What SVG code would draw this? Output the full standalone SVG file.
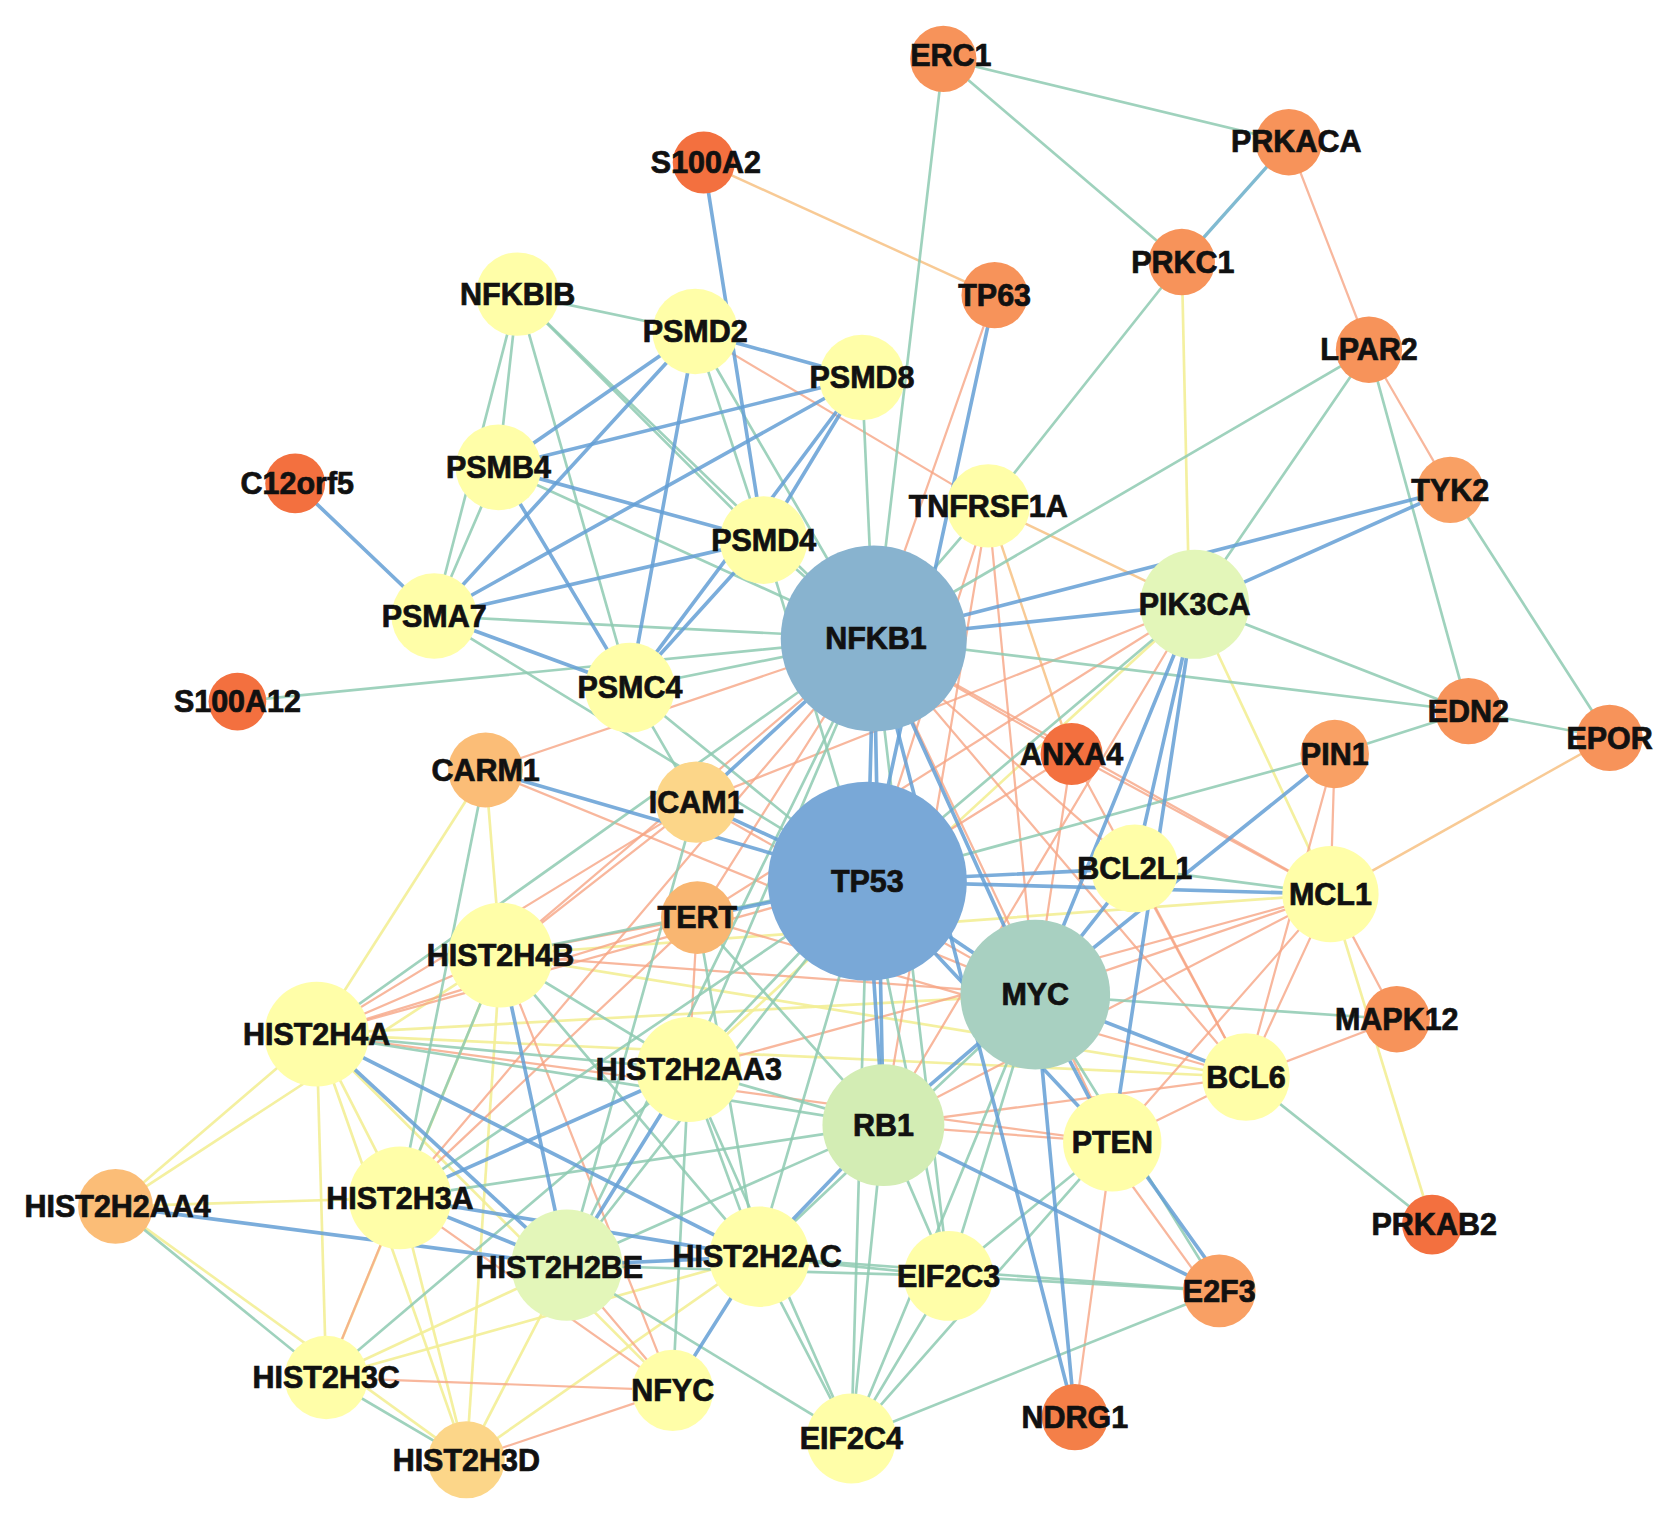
<svg xmlns="http://www.w3.org/2000/svg" width="1677" height="1525" viewBox="0 0 1677 1525">
<style>
.e line{stroke-linecap:round;fill:none}
.b{stroke:#649fd5;stroke-width:3.4;opacity:.85}
.bt{stroke:#6aaec9;stroke-width:3.2;opacity:.85}
.g{stroke:#8ecab2;stroke-width:2.5;opacity:.85}
.o{stroke:#f6a585;stroke-width:2.1;opacity:.8}
.oy{stroke:#f7c48a;stroke-width:2.3;opacity:.9}
.y{stroke:#f3ee96;stroke-width:2.5;opacity:.9}
.nd text{font-family:"Liberation Sans",Arial,Helvetica,sans-serif;font-weight:bold;font-size:28.5px;text-anchor:middle;fill:#111;stroke:#111;stroke-width:0.7px}
.red{fill:#f3703f}.org{fill:#f7935a}.lorg{fill:#f9a064}.peach{fill:#fbbd77}.sand{fill:#fcd689}
.yel{fill:#fffea8}.lg{fill:#e3f6b9}.rb{fill:#d3edb4}
</style>
<rect width="1677" height="1525" fill="#ffffff"/>
<g transform="scale(1.0695)">
<g id="connectors" class="e">
<line class="y" x1="1105" y1="245" x2="1112" y2="565"/>
<line class="y" x1="1117" y1="565" x2="1244" y2="836"/>
<line class="y" x1="1244" y1="836" x2="1339" y2="1145"/>
<line class="y" x1="468" y1="893" x2="1244" y2="836"/>
<line class="y" x1="296" y1="967" x2="1165" y2="1007"/>
<line class="y" x1="296" y1="967" x2="968" y2="930"/>
<line class="y" x1="468" y1="893" x2="1165" y2="1007"/>
<line class="y" x1="454" y1="720" x2="468" y2="893"/>
<line class="y" x1="454" y1="720" x2="296" y2="967"/>
<line class="y" x1="108" y1="1128" x2="296" y2="967"/>
<line class="y" x1="108" y1="1128" x2="468" y2="893"/>
<line class="y" x1="108" y1="1128" x2="374" y2="1120"/>
<line class="y" x1="108" y1="1128" x2="436" y2="1365"/>
<line class="y" x1="296" y1="967" x2="374" y2="1120"/>
<line class="y" x1="296" y1="967" x2="305" y2="1288"/>
<line class="y" x1="296" y1="967" x2="436" y2="1365"/>
<line class="y" x1="296" y1="967" x2="629" y2="1300"/>
<line class="y" x1="468" y1="893" x2="305" y2="1288"/>
<line class="y" x1="468" y1="893" x2="436" y2="1365"/>
<line class="y" x1="374" y1="1120" x2="436" y2="1365"/>
<line class="y" x1="530" y1="1183" x2="305" y2="1288"/>
<line class="y" x1="530" y1="1183" x2="436" y2="1365"/>
<line class="y" x1="708" y1="1175" x2="305" y2="1288"/>
<line class="y" x1="708" y1="1175" x2="436" y2="1365"/>
<line class="y" x1="1117" y1="565" x2="644" y2="1000"/>
<line class="oy" x1="658" y1="152" x2="930" y2="276"/>
<line class="oy" x1="924" y1="473" x2="1117" y2="565"/>
<line class="oy" x1="924" y1="473" x2="1002" y2="705"/>
<line class="oy" x1="1505" y1="690" x2="1244" y2="836"/>
<line class="o" x1="1205" y1="133" x2="1280" y2="327"/>
<line class="o" x1="1280" y1="327" x2="1356" y2="458"/>
<line class="o" x1="930" y1="276" x2="817" y2="597"/>
<line class="o" x1="650" y1="310" x2="924" y2="473"/>
<line class="o" x1="924" y1="473" x2="811" y2="824"/>
<line class="o" x1="924" y1="473" x2="968" y2="930"/>
<line class="o" x1="924" y1="473" x2="826" y2="1052"/>
<line class="o" x1="817" y1="597" x2="1002" y2="705"/>
<line class="o" x1="817" y1="597" x2="1061" y2="812"/>
<line class="o" x1="817" y1="597" x2="1244" y2="836"/>
<line class="o" x1="817" y1="597" x2="1040" y2="1068"/>
<line class="o" x1="817" y1="597" x2="1165" y2="1007"/>
<line class="o" x1="817" y1="597" x2="468" y2="893"/>
<line class="o" x1="817" y1="597" x2="652" y2="858"/>
<line class="o" x1="817" y1="597" x2="374" y2="1120"/>
<line class="o" x1="1002" y1="705" x2="811" y2="824"/>
<line class="o" x1="1002" y1="705" x2="968" y2="930"/>
<line class="o" x1="1002" y1="705" x2="1244" y2="836"/>
<line class="o" x1="1002" y1="705" x2="1165" y2="1007"/>
<line class="o" x1="1117" y1="565" x2="651" y2="750"/>
<line class="o" x1="1117" y1="565" x2="826" y2="1052"/>
<line class="o" x1="1117" y1="565" x2="652" y2="858"/>
<line class="o" x1="1248" y1="705" x2="1244" y2="836"/>
<line class="o" x1="1248" y1="705" x2="1165" y2="1007"/>
<line class="o" x1="1244" y1="836" x2="1306" y2="953"/>
<line class="o" x1="1244" y1="836" x2="1165" y2="1007"/>
<line class="o" x1="1244" y1="836" x2="826" y2="1052"/>
<line class="o" x1="1244" y1="836" x2="1040" y2="1068"/>
<line class="o" x1="1244" y1="836" x2="968" y2="930"/>
<line class="o" x1="1165" y1="1007" x2="1306" y2="953"/>
<line class="o" x1="1165" y1="1007" x2="1061" y2="812"/>
<line class="o" x1="1165" y1="1007" x2="1040" y2="1068"/>
<line class="o" x1="1165" y1="1007" x2="826" y2="1052"/>
<line class="o" x1="1032" y1="1072" x2="1132" y2="1210"/>
<line class="o" x1="1040" y1="1068" x2="1005" y2="1325"/>
<line class="o" x1="1040" y1="1068" x2="826" y2="1052"/>
<line class="o" x1="454" y1="720" x2="817" y2="597"/>
<line class="o" x1="454" y1="720" x2="968" y2="930"/>
<line class="o" x1="651" y1="750" x2="468" y2="893"/>
<line class="o" x1="651" y1="750" x2="296" y2="967"/>
<line class="o" x1="651" y1="750" x2="968" y2="930"/>
<line class="o" x1="652" y1="858" x2="468" y2="893"/>
<line class="o" x1="652" y1="858" x2="296" y2="967"/>
<line class="o" x1="652" y1="858" x2="644" y2="1000"/>
<line class="o" x1="652" y1="858" x2="374" y2="1120"/>
<line class="o" x1="652" y1="858" x2="1165" y2="1007"/>
<line class="o" x1="296" y1="967" x2="468" y2="893"/>
<line class="o" x1="296" y1="967" x2="811" y2="824"/>
<line class="o" x1="296" y1="967" x2="1040" y2="1068"/>
<line class="o" x1="468" y1="893" x2="968" y2="930"/>
<line class="o" x1="644" y1="1000" x2="1244" y2="836"/>
<line class="o" x1="374" y1="1120" x2="305" y2="1288"/>
<line class="o" x1="374" y1="1120" x2="629" y2="1300"/>
<line class="o" x1="530" y1="1183" x2="629" y2="1300"/>
<line class="o" x1="305" y1="1288" x2="629" y2="1300"/>
<line class="o" x1="436" y1="1365" x2="629" y2="1300"/>
<line class="o" x1="468" y1="893" x2="629" y2="1300"/>
<line class="g" x1="882" y1="55" x2="1205" y2="133"/>
<line class="g" x1="882" y1="55" x2="1105" y2="245"/>
<line class="g" x1="882" y1="55" x2="818" y2="597"/>
<line class="g" x1="1105" y1="245" x2="924" y2="473"/>
<line class="g" x1="1280" y1="327" x2="817" y2="597"/>
<line class="g" x1="1280" y1="327" x2="1117" y2="565"/>
<line class="g" x1="1280" y1="327" x2="1373" y2="665"/>
<line class="g" x1="1356" y1="458" x2="1505" y2="690"/>
<line class="g" x1="1117" y1="565" x2="1373" y2="665"/>
<line class="g" x1="817" y1="597" x2="1373" y2="665"/>
<line class="g" x1="1373" y1="665" x2="1505" y2="690"/>
<line class="g" x1="1373" y1="665" x2="1248" y2="705"/>
<line class="g" x1="1248" y1="705" x2="811" y2="824"/>
<line class="g" x1="484" y1="275" x2="650" y2="310"/>
<line class="g" x1="484" y1="275" x2="466" y2="437"/>
<line class="g" x1="484" y1="275" x2="406" y2="576"/>
<line class="g" x1="484" y1="275" x2="589" y2="643"/>
<line class="g" x1="484" y1="275" x2="714" y2="505"/>
<line class="g" x1="484" y1="275" x2="817" y2="597"/>
<line class="g" x1="650" y1="310" x2="714" y2="505"/>
<line class="g" x1="650" y1="310" x2="817" y2="597"/>
<line class="g" x1="806" y1="353" x2="817" y2="597"/>
<line class="g" x1="466" y1="437" x2="406" y2="576"/>
<line class="g" x1="466" y1="437" x2="817" y2="597"/>
<line class="g" x1="406" y1="576" x2="817" y2="597"/>
<line class="g" x1="406" y1="576" x2="811" y2="824"/>
<line class="g" x1="714" y1="505" x2="817" y2="597"/>
<line class="g" x1="714" y1="505" x2="811" y2="824"/>
<line class="g" x1="589" y1="643" x2="817" y2="597"/>
<line class="g" x1="589" y1="643" x2="811" y2="824"/>
<line class="g" x1="222" y1="656" x2="817" y2="597"/>
<line class="g" x1="924" y1="473" x2="817" y2="597"/>
<line class="g" x1="1117" y1="565" x2="811" y2="824"/>
<line class="g" x1="454" y1="720" x2="374" y2="1120"/>
<line class="g" x1="1061" y1="812" x2="1244" y2="836"/>
<line class="g" x1="968" y1="930" x2="1306" y2="953"/>
<line class="g" x1="968" y1="930" x2="1140" y2="1207"/>
<line class="g" x1="968" y1="930" x2="887" y2="1193"/>
<line class="g" x1="968" y1="930" x2="796" y2="1345"/>
<line class="g" x1="968" y1="930" x2="708" y2="1175"/>
<line class="g" x1="1165" y1="1007" x2="1339" y2="1145"/>
<line class="g" x1="826" y1="1052" x2="887" y2="1193"/>
<line class="g" x1="826" y1="1052" x2="796" y2="1345"/>
<line class="g" x1="826" y1="1052" x2="644" y2="1000"/>
<line class="g" x1="826" y1="1052" x2="530" y2="1183"/>
<line class="g" x1="826" y1="1052" x2="296" y2="967"/>
<line class="g" x1="826" y1="1052" x2="374" y2="1120"/>
<line class="g" x1="1040" y1="1068" x2="887" y2="1193"/>
<line class="g" x1="1040" y1="1068" x2="796" y2="1345"/>
<line class="g" x1="1140" y1="1207" x2="887" y2="1193"/>
<line class="g" x1="1140" y1="1207" x2="796" y2="1345"/>
<line class="g" x1="1140" y1="1207" x2="708" y2="1175"/>
<line class="g" x1="887" y1="1193" x2="796" y2="1345"/>
<line class="g" x1="887" y1="1193" x2="530" y2="1183"/>
<line class="g" x1="887" y1="1193" x2="708" y2="1175"/>
<line class="g" x1="796" y1="1345" x2="708" y2="1175"/>
<line class="g" x1="796" y1="1345" x2="530" y2="1183"/>
<line class="g" x1="796" y1="1345" x2="644" y2="1000"/>
<line class="g" x1="811" y1="824" x2="644" y2="1000"/>
<line class="g" x1="811" y1="824" x2="530" y2="1183"/>
<line class="g" x1="811" y1="824" x2="708" y2="1175"/>
<line class="g" x1="811" y1="824" x2="468" y2="893"/>
<line class="g" x1="811" y1="824" x2="374" y2="1120"/>
<line class="g" x1="811" y1="824" x2="887" y2="1193"/>
<line class="g" x1="811" y1="824" x2="796" y2="1345"/>
<line class="g" x1="817" y1="597" x2="644" y2="1000"/>
<line class="g" x1="817" y1="597" x2="530" y2="1183"/>
<line class="g" x1="817" y1="597" x2="887" y2="1193"/>
<line class="g" x1="817" y1="597" x2="296" y2="967"/>
<line class="g" x1="108" y1="1128" x2="305" y2="1288"/>
<line class="g" x1="296" y1="967" x2="644" y2="1000"/>
<line class="g" x1="468" y1="893" x2="644" y2="1000"/>
<line class="g" x1="468" y1="893" x2="708" y2="1175"/>
<line class="g" x1="468" y1="893" x2="374" y2="1120"/>
<line class="g" x1="644" y1="1000" x2="708" y2="1175"/>
<line class="g" x1="644" y1="1000" x2="305" y2="1288"/>
<line class="g" x1="644" y1="1000" x2="629" y2="1300"/>
<line class="g" x1="305" y1="1288" x2="436" y2="1365"/>
<line class="g" x1="652" y1="858" x2="826" y2="1052"/>
<line class="g" x1="651" y1="750" x2="530" y2="1183"/>
<line class="g" x1="589" y1="643" x2="651" y2="750"/>
<line class="g" x1="652" y1="858" x2="708" y2="1175"/>
<line class="bt" x1="1205" y1="133" x2="1105" y2="245"/>
<line class="b" x1="658" y1="152" x2="714" y2="505"/>
<line class="b" x1="276" y1="452" x2="406" y2="576"/>
<line class="b" x1="650" y1="310" x2="806" y2="353"/>
<line class="b" x1="650" y1="310" x2="466" y2="437"/>
<line class="b" x1="650" y1="310" x2="406" y2="576"/>
<line class="b" x1="650" y1="310" x2="589" y2="643"/>
<line class="b" x1="806" y1="353" x2="466" y2="437"/>
<line class="b" x1="806" y1="353" x2="406" y2="576"/>
<line class="b" x1="806" y1="353" x2="714" y2="505"/>
<line class="b" x1="806" y1="353" x2="589" y2="643"/>
<line class="b" x1="466" y1="437" x2="714" y2="505"/>
<line class="b" x1="466" y1="437" x2="589" y2="643"/>
<line class="b" x1="406" y1="576" x2="714" y2="505"/>
<line class="b" x1="406" y1="576" x2="589" y2="643"/>
<line class="b" x1="714" y1="505" x2="589" y2="643"/>
<line class="b" x1="930" y1="276" x2="811" y2="824"/>
<line class="b" x1="817" y1="597" x2="1117" y2="565"/>
<line class="b" x1="817" y1="597" x2="1356" y2="458"/>
<line class="b" x1="1117" y1="565" x2="1356" y2="458"/>
<line class="b" x1="817" y1="597" x2="811" y2="824"/>
<line class="b" x1="817" y1="597" x2="968" y2="930"/>
<line class="b" x1="817" y1="597" x2="826" y2="1052"/>
<line class="b" x1="817" y1="597" x2="1005" y2="1325"/>
<line class="b" x1="811" y1="824" x2="968" y2="930"/>
<line class="b" x1="811" y1="824" x2="826" y2="1052"/>
<line class="b" x1="968" y1="930" x2="826" y2="1052"/>
<line class="b" x1="811" y1="824" x2="1061" y2="812"/>
<line class="b" x1="811" y1="824" x2="1244" y2="836"/>
<line class="b" x1="1248" y1="705" x2="968" y2="930"/>
<line class="b" x1="1117" y1="565" x2="1061" y2="812"/>
<line class="b" x1="1117" y1="565" x2="968" y2="930"/>
<line class="b" x1="1117" y1="565" x2="1040" y2="1068"/>
<line class="b" x1="454" y1="720" x2="811" y2="824"/>
<line class="b" x1="651" y1="750" x2="811" y2="824"/>
<line class="b" x1="651" y1="750" x2="817" y2="597"/>
<line class="b" x1="652" y1="858" x2="811" y2="824"/>
<line class="b" x1="968" y1="930" x2="1040" y2="1068"/>
<line class="b" x1="968" y1="930" x2="1165" y2="1007"/>
<line class="b" x1="968" y1="930" x2="1005" y2="1325"/>
<line class="b" x1="968" y1="930" x2="1061" y2="812"/>
<line class="b" x1="826" y1="1052" x2="1140" y2="1207"/>
<line class="b" x1="826" y1="1052" x2="708" y2="1175"/>
<line class="b" x1="1048" y1="1066" x2="1146" y2="1203"/>
<line class="b" x1="811" y1="824" x2="1040" y2="1068"/>
<line class="b" x1="108" y1="1128" x2="530" y2="1183"/>
<line class="b" x1="296" y1="967" x2="530" y2="1183"/>
<line class="b" x1="296" y1="967" x2="708" y2="1175"/>
<line class="b" x1="468" y1="893" x2="530" y2="1183"/>
<line class="b" x1="644" y1="1000" x2="374" y2="1120"/>
<line class="b" x1="644" y1="1000" x2="530" y2="1183"/>
<line class="b" x1="374" y1="1120" x2="530" y2="1183"/>
<line class="b" x1="374" y1="1120" x2="708" y2="1175"/>
<line class="b" x1="530" y1="1183" x2="708" y2="1175"/>
<line class="b" x1="708" y1="1175" x2="629" y2="1300"/>
</g>
<g id="nodes" class="nd">
<g id="n-ERC1"><circle class="org" cx="882" cy="55" r="31"/><text x="889" y="62">ERC1</text></g>
<g id="n-PRKACA"><circle class="org" cx="1205" cy="133" r="31"/><text x="1212" y="142">PRKACA</text></g>
<g id="n-S100A2"><circle class="red" cx="658" cy="152" r="29"/><text x="660" y="162">S100A2</text></g>
<g id="n-PRKC1"><circle class="org" cx="1105" cy="245" r="31"/><text x="1106" y="255">PRKC1</text></g>
<g id="n-TP63"><circle class="org" cx="930" cy="276" r="31"/><text x="930" y="286">TP63</text></g>
<g id="n-NFKBIB"><circle class="yel" cx="484" cy="275" r="39"/><text x="484" y="285">NFKBIB</text></g>
<g id="n-PSMD2"><circle class="yel" cx="650" cy="310" r="40"/><text x="650" y="320">PSMD2</text></g>
<g id="n-LPAR2"><circle class="org" cx="1280" cy="327" r="31"/><text x="1280" y="337">LPAR2</text></g>
<g id="n-PSMD8"><circle class="yel" cx="806" cy="353" r="40"/><text x="806" y="363">PSMD8</text></g>
<g id="n-PSMB4"><circle class="yel" cx="466" cy="437" r="40"/><text x="466" y="447">PSMB4</text></g>
<g id="n-C12orf5"><circle class="red" cx="276" cy="452" r="28"/><text x="278" y="462">C12orf5</text></g>
<g id="n-TYK2"><circle class="lorg" cx="1356" cy="458" r="31"/><text x="1356" y="468">TYK2</text></g>
<g id="n-TNFRSF1A"><circle class="yel" cx="924" cy="473" r="39"/><text x="924" y="483">TNFRSF1A</text></g>
<g id="n-PSMD4"><circle class="yel" cx="714" cy="505" r="41"/><text x="714" y="515">PSMD4</text></g>
<g id="n-PSMA7"><circle class="yel" cx="406" cy="576" r="40"/><text x="406" y="586">PSMA7</text></g>
<g id="n-PSMC4"><circle class="yel" cx="589" cy="643" r="42"/><text x="589" y="653">PSMC4</text></g>
<g id="n-S100A12"><circle class="red" cx="222" cy="656" r="27"/><text x="222" y="666">S100A12</text></g>
<g id="n-PIK3CA"><circle class="lg" cx="1117" cy="565" r="51"/><text x="1117" y="575">PIK3CA</text></g>
<g id="n-NFKB1"><circle fill="#88b3cf" cx="817" cy="597" r="87"/><text x="819" y="607">NFKB1</text></g>
<g id="n-EDN2"><circle class="org" cx="1373" cy="665" r="31"/><text x="1373" y="675">EDN2</text></g>
<g id="n-EPOR"><circle class="org" cx="1505" cy="690" r="31"/><text x="1505" y="700">EPOR</text></g>
<g id="n-ANXA4"><circle class="red" cx="1002" cy="705" r="29"/><text x="1002" y="715">ANXA4</text></g>
<g id="n-PIN1"><circle class="lorg" cx="1248" cy="705" r="32"/><text x="1248" y="715">PIN1</text></g>
<g id="n-CARM1"><circle class="peach" cx="454" cy="720" r="35"/><text x="454" y="730">CARM1</text></g>
<g id="n-ICAM1"><circle class="sand" cx="651" cy="750" r="38"/><text x="651" y="760">ICAM1</text></g>
<g id="n-TP53"><circle fill="#79a8d7" cx="811" cy="824" r="93"/><text x="811" y="834">TP53</text></g>
<g id="n-BCL2L1"><circle class="yel" cx="1061" cy="812" r="41"/><text x="1061" y="822">BCL2L1</text></g>
<g id="n-MCL1"><circle class="yel" cx="1244" cy="836" r="45"/><text x="1244" y="846">MCL1</text></g>
<g id="n-TERT"><circle fill="#f9b671" cx="652" cy="858" r="34"/><text x="652" y="868">TERT</text></g>
<g id="n-HIST2H4B"><circle class="yel" cx="468" cy="893" r="49"/><text x="468" y="903">HIST2H4B</text></g>
<g id="n-MYC"><circle fill="#a8d0c1" cx="968" cy="930" r="70"/><text x="968" y="940">MYC</text></g>
<g id="n-HIST2H4A"><circle class="yel" cx="296" cy="967" r="49"/><text x="296" y="977">HIST2H4A</text></g>
<g id="n-MAPK12"><circle class="org" cx="1306" cy="953" r="31"/><text x="1306" y="963">MAPK12</text></g>
<g id="n-HIST2H2AA3"><circle class="yel" cx="644" cy="1000" r="49"/><text x="644" y="1010">HIST2H2AA3</text></g>
<g id="n-BCL6"><circle class="yel" cx="1165" cy="1007" r="41"/><text x="1165" y="1017">BCL6</text></g>
<g id="n-RB1"><circle class="rb" cx="826" cy="1052" r="57"/><text x="826" y="1062">RB1</text></g>
<g id="n-PTEN"><circle class="yel" cx="1040" cy="1068" r="46"/><text x="1040" y="1078">PTEN</text></g>
<g id="n-HIST2H2AA4"><circle class="peach" cx="108" cy="1128" r="35"/><text x="110" y="1138">HIST2H2AA4</text></g>
<g id="n-HIST2H3A"><circle class="yel" cx="374" cy="1120" r="48"/><text x="374" y="1130">HIST2H3A</text></g>
<g id="n-PRKAB2"><circle class="red" cx="1339" cy="1145" r="28"/><text x="1341" y="1155">PRKAB2</text></g>
<g id="n-HIST2H2BE"><circle class="lg" cx="530" cy="1183" r="52"/><text x="523" y="1195">HIST2H2BE</text></g>
<g id="n-HIST2H2AC"><circle class="yel" cx="710" cy="1175" r="47"/><text x="708" y="1185">HIST2H2AC</text></g>
<g id="n-EIF2C3"><circle class="yel" cx="887" cy="1193" r="42"/><text x="887" y="1203">EIF2C3</text></g>
<g id="n-E2F3"><circle class="lorg" cx="1140" cy="1207" r="34"/><text x="1140" y="1217">E2F3</text></g>
<g id="n-HIST2H3C"><circle class="yel" cx="305" cy="1288" r="39"/><text x="305" y="1298">HIST2H3C</text></g>
<g id="n-NFYC"><circle class="yel" cx="629" cy="1300" r="38"/><text x="629" y="1310">NFYC</text></g>
<g id="n-EIF2C4"><circle class="yel" cx="796" cy="1345" r="42"/><text x="796" y="1355">EIF2C4</text></g>
<g id="n-NDRG1"><circle fill="#f47f48" cx="1005" cy="1325" r="31"/><text x="1005" y="1335">NDRG1</text></g>
<g id="n-HIST2H3D"><circle class="sand" cx="436" cy="1365" r="36"/><text x="436" y="1375">HIST2H3D</text></g>
</g>
</g>
</svg>
